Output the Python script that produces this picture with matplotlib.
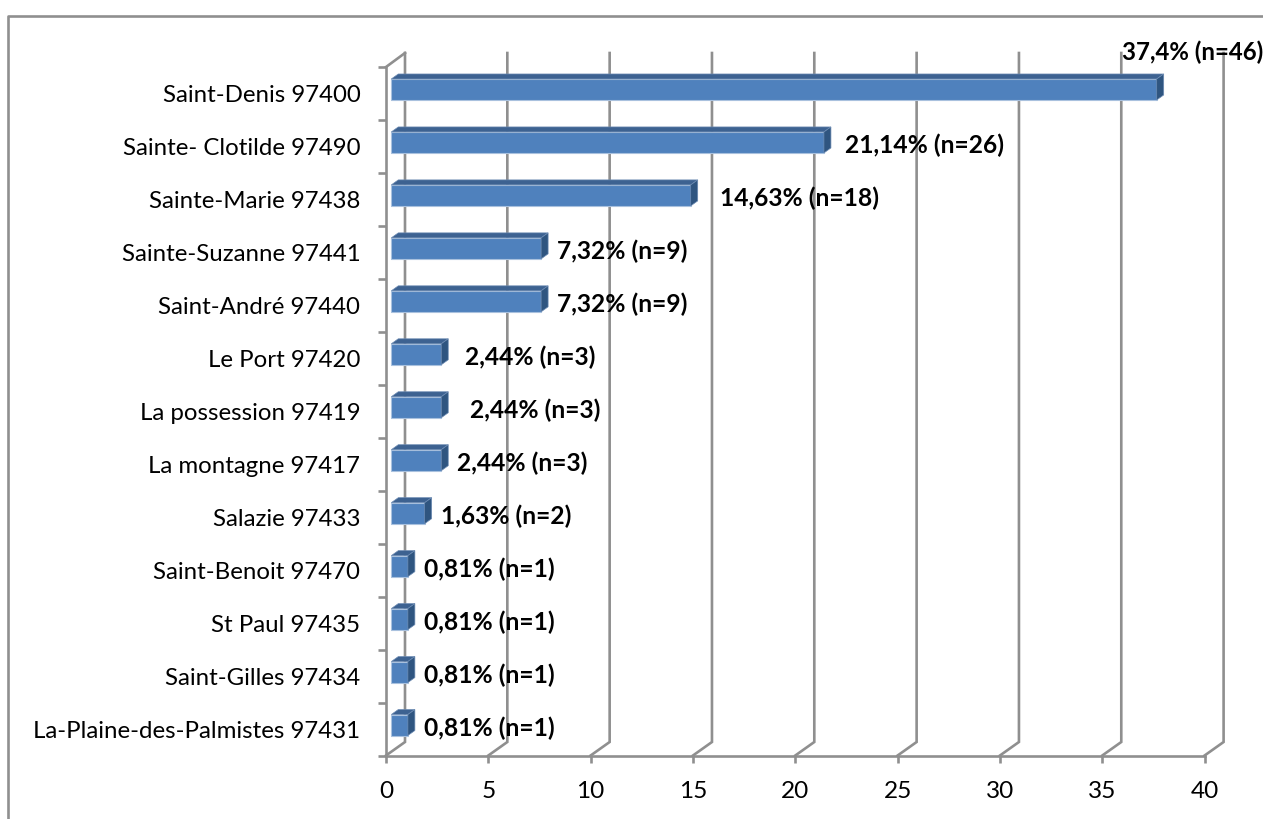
import matplotlib
matplotlib.use('Agg')
import matplotlib.pyplot as plt
from matplotlib.lines import Line2D
from matplotlib.patches import Polygon

communes = ['Saint-Denis 97400', 'Sainte- Clotilde 97490', 'Sainte-Marie 97438',
            'Sainte-Suzanne 97441', 'Saint-André 97440', 'Le Port 97420',
            'La possession 97419', 'La montagne 97417', 'Salazie 97433',
            'Saint-Benoit 97470', 'St Paul 97435', 'Saint-Gilles 97434',
            'La-Plaine-des-Palmistes 97431']
percents = [37.4, 21.14, 14.63, 7.32, 7.32, 2.44, 2.44, 2.44, 1.63, 0.81, 0.81, 0.81, 0.81]
bar_labels = ['37,4% (n=46)', '21,14% (n=26)', '14,63% (n=18)', '7,32% (n=9)', '7,32% (n=9)',
              '2,44% (n=3)', '2,44% (n=3)', '2,44% (n=3)', '1,63% (n=2)', '0,81% (n=1)',
              '0,81% (n=1)', '0,81% (n=1)', '0,81% (n=1)']
x_ticks = [0, 5, 10, 15, 20, 25, 30, 35, 40]

# hand placed data labels in the original: pixel gap from the bar end
label_gap = [-42, 14, 22, 9, 9, 17, 22, 9, 9, 9, 9, 9, 9]
label_rise = [40, 0, 0, 0, 0, 0, 0, 0, 0, 0, 0, 0, 0]
label_size = [17.3, 17.7, 17.7, 17.7, 17.7, 17.7, 17.7, 17.7, 17.7, 17.7, 17.7, 17.7, 17.7]

W, H = 1263, 819
plt.rcParams['font.family'] = ['Lato', 'DejaVu Sans']

fig = plt.figure(figsize=(W / 100, H / 100), dpi=100)
left, right, top, bottom = 386, 1204.6, 67, 755.5
ax = fig.add_axes([left / W, 1 - bottom / H, (right - left) / W, (bottom - top) / H])
ax.set_xlim(0, 40)
ax.set_ylim(len(communes), 0)
ax.patch.set_alpha(0)

GRAY = '#8f8f8f'
LW = 1.9
FS = 17.3
px_x = 40 / (right - left)
px_y = len(communes) / (bottom - top)

# back wall and floor lines
wall_dx, wall_dy = 19 * px_x, 13.5 * px_y
wall_top = -14 * px_y
for t in x_ticks:
    ax.plot([t, t + wall_dx, t + wall_dx], [len(communes), len(communes) - wall_dy, wall_top],
            color=GRAY, lw=LW, clip_on=False, zorder=1, solid_joinstyle='miter')
ax.plot([0, wall_dx], [0, wall_top], color=GRAY, lw=LW, clip_on=False, zorder=1)

# bars, front face plus top and side faces
start = 5.3 * px_x
bar_h = 21 * px_y
dep_x, dep_y = 7 * px_x, 5 * px_y
ys = [i + 0.5 - 4 * px_y for i in range(len(communes))]
ax.barh(ys, percents, left=start, height=bar_h, color='#4f81bd', edgecolor='#a9c1de',
        linewidth=0.8, zorder=3)
for y, v in zip(ys, percents):
    x1 = start + v
    y0 = y - bar_h / 2
    y1 = y + bar_h / 2
    ax.add_patch(Polygon([(start, y0), (start + dep_x, y0 - dep_y), (x1 + dep_x, y0 - dep_y), (x1, y0)],
                         facecolor='#3d6291', edgecolor='#6c8bb3', lw=0.5, zorder=3, clip_on=False))
    ax.add_patch(Polygon([(x1, y0), (x1 + dep_x, y0 - dep_y), (x1 + dep_x, y1 - dep_y), (x1, y1)],
                         facecolor='#2f5580', edgecolor='#6c8bb3', lw=0.5, zorder=3, clip_on=False))

for y, v, txt, gap, rise, size in zip(ys, percents, bar_labels, label_gap, label_rise, label_size):
    ax.text(start + v + dep_x + gap * px_x, y + 3 * px_y - rise * px_y, txt, fontsize=size, fontweight='bold',
            color='black', va='center', ha='left', zorder=5, clip_on=False)

ax.set_xticks(x_ticks)
ax.set_yticks(range(len(communes) + 1))
ax.set_yticklabels([])
ax.set_yticks([i + 0.5 for i in range(len(communes))], labels=communes, minor=True)
ax.tick_params(axis='x', color=GRAY, width=LW, length=5, labelsize=17.6, pad=13)
ax.tick_params(axis='y', which='major', color=GRAY, width=LW, length=6)
ax.tick_params(axis='y', which='minor', length=0, labelsize=FS, pad=18.5)
for s in ['top', 'right']:
    ax.spines[s].set_visible(False)
for s in ['left', 'bottom']:
    ax.spines[s].set_color(GRAY)
    ax.spines[s].set_linewidth(LW)

# chart area border, runs off the page on the right and bottom
fig.add_artist(Line2D([8 / W, 8 / W, 1], [0, 1 - 15.5 / H, 1 - 15.5 / H], color=GRAY, lw=LW))

fig.savefig('out.png', dpi=100)
